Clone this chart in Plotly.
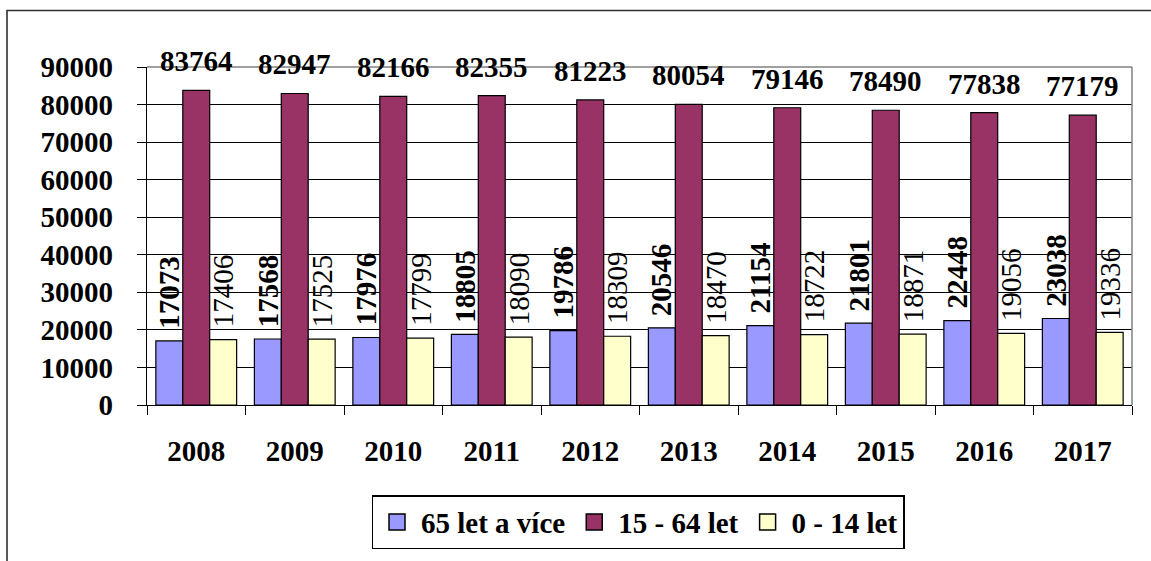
import plotly.graph_objects as go

years = ["2008", "2009", "2010", "2011", "2012", "2013", "2014", "2015", "2016", "2017"]
s65 = [17073, 17568, 17976, 18805, 19786, 20546, 21154, 21801, 22448, 23038]
s15 = [83764, 82947, 82166, 82355, 81223, 80054, 79146, 78490, 77838, 77179]
s0 = [17406, 17525, 17799, 18090, 18309, 18470, 18722, 18871, 19056, 19336]
names = ["65 let a více", "15 - 64 let", "0 - 14 let"]
colors = ["#9999FF", "#993366", "#FFFFCC"]
yticks = list(range(0, 90001, 10000))

FONT = "Liberation Serif"
BARGAP = 0.18

fig = go.Figure()
for name, vals, col in zip(names, [s65, s15, s0], colors):
    fig.add_trace(go.Bar(
        x=years, y=vals, name=name, showlegend=False,
        marker=dict(color=col, line=dict(color="black", width=1.2)),
    ))
# legend entries with larger square swatches
for name, col in zip(names, colors):
    fig.add_trace(go.Scatter(
        x=[None], y=[None], name=name, mode="markers",
        marker=dict(symbol="square", size=16, color=col, line=dict(color="black", width=1.5)),
    ))

w = (1 - BARGAP) / 3
ann = []
for i in range(len(years)):
    ann.append(dict(x=i - w, y=s65[i], xref="x", yref="y", text=str(s65[i]),
                    textangle=-90, showarrow=False, yanchor="bottom", xanchor="center",
                    yshift=10, font=dict(family=FONT, size=29, color="black", weight="bold")))
    ann.append(dict(x=i + w, y=s0[i], xref="x", yref="y", text=str(s0[i]),
                    textangle=-90, showarrow=False, yanchor="bottom", xanchor="center",
                    yshift=10, font=dict(family=FONT, size=29, color="black", weight="normal")))
    ann.append(dict(x=i, y=s15[i], xref="x", yref="y", text=str(s15[i]),
                    showarrow=False, yanchor="middle", xanchor="center",
                    yshift=29, font=dict(family=FONT, size=29, color="black", weight="bold")))

L, R, T, B = 147, 1132, 67, 408
W, H = R - L, B - T
def px(x):
    return (x - L) / W
def py(y):
    return (B - y) / H

shapes = [
    dict(type="rect", xref="paper", yref="paper", x0=px(7), x1=px(1200), y0=py(600), y1=py(10),
         line=dict(color="#303030", width=1.6), fillcolor="rgba(0,0,0,0)", layer="below"),
    dict(type="line", xref="paper", yref="paper", x0=0, x1=1, y0=1, y1=1,
         line=dict(color="#808080", width=1.5), layer="above"),
    dict(type="line", xref="paper", yref="paper", x0=1, x1=1, y0=0, y1=1,
         line=dict(color="#808080", width=1.5), layer="above"),
]

fig.update_layout(
    width=1151, height=561,
    margin=dict(l=L, r=1151 - R, t=T, b=561 - B),
    paper_bgcolor="white", plot_bgcolor="white",
    barmode="group", bargap=BARGAP, bargroupgap=0,
    font=dict(family=FONT, size=29, color="black"),
    showlegend=True,
    legend=dict(orientation="h", x=px(638), xanchor="center", y=py(499), yanchor="top",
                bordercolor="black", borderwidth=1.5, bgcolor="white",
                font=dict(family=FONT, size=29, color="black", weight="bold"),
                itemwidth=38, tracegroupgap=0),
    annotations=ann,
    shapes=shapes,
)
fig.update_xaxes(type="category", showline=True, linecolor="black", linewidth=1.2,
                 ticks="outside", tickson="boundaries", ticklen=9, tickcolor="black",
                 tickfont=dict(family=FONT, size=29, color="black", weight="bold"),
                 ticklabelstandoff=20, showgrid=False)
fig.update_yaxes(range=[0, 90000], tickvals=yticks, ticktext=[str(v) for v in yticks],
                 showline=True, linecolor="black", linewidth=1.2,
                 ticks="outside", ticklen=9, tickcolor="black",
                 showgrid=True, gridcolor="black", gridwidth=1.2, zeroline=False,
                 tickfont=dict(family=FONT, size=29, color="black", weight="bold"),
                 ticklabelstandoff=18)

fig.write_html("out.html", config={"displayModeBar": False},
               post_script="document.body.style.margin='0';document.body.style.overflow='hidden';")
